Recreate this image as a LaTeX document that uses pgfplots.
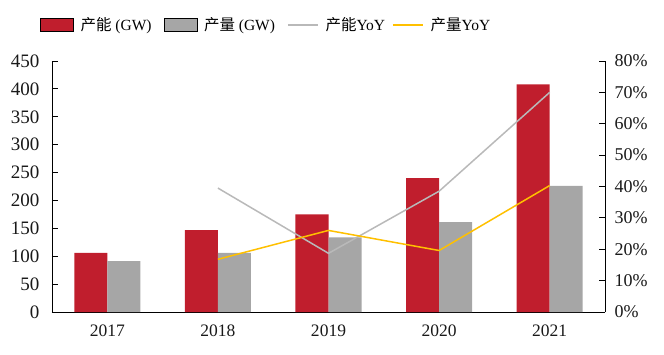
\documentclass[border=0pt]{standalone}
\usepackage{pgfplots}
\pgfplotsset{compat=1.18}
\usepackage{fontspec}
\setmainfont{Liberation Serif}
\newfontfamily\cjk{Noto Sans CJK SC}
\definecolor{cred}{RGB}{192,30,45}
\definecolor{cgray}{RGB}{166,166,166}
\definecolor{lgray}{RGB}{185,185,185}
\definecolor{cyel}{RGB}{255,192,0}
\pgfplotsset{
  linelegend/.style={legend image code/.code={\draw[##1] (0bp,0bp) -- (30bp,0bp);}},
  barlegend/.style={legend image code/.code={\fill[##1] (0bp,-6.5bp) rectangle (33bp,6.5bp);}},
  common/.style={
    scale only axis, width=553bp, height=251bp,
    xmin=-0.5, xmax=4.5,
    major tick length=6bp,
    tick align=inside,
    tick style={black, line width=0.8bp},
    axis line style={black, line width=0.8bp, -},
    font=\fontsize{17bp}{20bp}\selectfont,
    /pgf/number format/assume math mode=true,
    ticklabel style={text=black!90},
  }
}
\begin{document}
\begin{tikzpicture}
\useasboundingbox (-52bp,-43bp) rectangle (612bp,312bp);
\begin{axis}[common,
  ymin=0, ymax=450,
  axis x line*=bottom, axis y line*=left,
  xtick={0,...,4}, xticklabels={2017,2018,2019,2020,2021},
  xtick style={draw=none},
  ytick={0,50,...,450},
  yticklabel style={xshift=-9bp, font=\fontsize{19bp}{20bp}\selectfont},
  xticklabel style={yshift=-9bp, font=\fontsize{17.5bp}{20bp}\selectfont},
]
\addplot[ybar, bar width=33bp, bar shift=-16.5bp, fill=cred, draw=none] coordinates {(0,106)(1,147)(2,175)(3,240)(4,408)};
\addplot[ybar, bar width=33bp, bar shift=16.5bp, fill=cgray, draw=none] coordinates {(0,91)(1,106)(2,134)(3,161)(4,226)};
\end{axis}
\begin{axis}[common,
  ymin=0, ymax=80,
  axis x line=none, axis y line*=right,
  ytick={0,10,...,80},
  yticklabel={\pgfmathprintnumber{\tick}\%},
  yticklabel style={xshift=6bp, font=\fontsize{18bp}{20bp}\selectfont},
  legend columns=4,
  legend style={draw=none, fill=none, at={(-0.0217,1.143)}, anchor=west, inner sep=0pt,
    font=\fontsize{15.5bp}{18bp}\selectfont,
    nodes={inner sep=0pt},
    /tikz/every odd column/.append style={column sep=7bp},
    /tikz/column 2/.append style={column sep=12bp},
    /tikz/column 4/.append style={column sep=12bp},
    /tikz/column 6/.append style={column sep=7bp}},
  legend cell align=left,
]
\addlegendimage{barlegend, fill=cred}
\addlegendentry{{\cjk 产能} (GW)}
\addlegendimage{barlegend, fill=cgray}
\addlegendentry{{\cjk 产量} (GW)}
\addplot[lgray, line width=1.5bp, linelegend] coordinates {(1,39.5)(2,18.7)(3,38.5)(4,70)};
\addlegendentry{{\cjk 产能}YoY}
\addplot[cyel, line width=1.5bp, linelegend] coordinates {(1,16.8)(2,26)(3,19.6)(4,40.3)};
\addlegendentry{{\cjk 产量}YoY}
\end{axis}
\end{tikzpicture}
\end{document}
